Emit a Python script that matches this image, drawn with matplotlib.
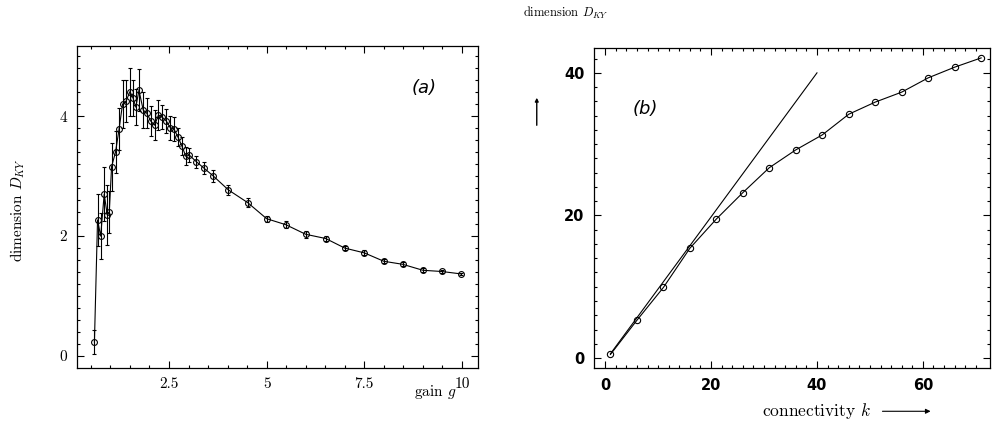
import numpy as np
import matplotlib
matplotlib.use("Agg")
import matplotlib.pyplot as plt

plt.rcParams['mathtext.fontset'] = 'cm'

# --- datos panel (a): gain g vs dimension D_KY ---
gain = [0.59, 0.67, 0.75, 0.84, 0.92, 0.97, 1.03, 1.13, 1.22, 1.31, 1.40, 1.50,
        1.58, 1.65, 1.73, 1.84, 1.93, 2.03, 2.13, 2.23, 2.33, 2.43, 2.53, 2.63,
        2.73, 2.83, 2.93, 3.02, 3.20, 3.40, 3.62, 4.02, 4.51, 5.0, 5.49, 6.0,
        6.51, 7.0, 7.5, 8.0, 8.48, 9.0, 9.48, 9.97]
dim_a = [0.23, 2.27, 2.00, 2.70, 2.35, 2.40, 3.16, 3.40, 3.78, 4.20, 4.25, 4.41,
         4.30, 4.15, 4.43, 4.10, 4.05, 3.92, 3.85, 4.02, 3.98, 3.92, 3.81, 3.78,
         3.65, 3.50, 3.33, 3.35, 3.24, 3.13, 3.01, 2.77, 2.56, 2.29, 2.19, 2.03,
         1.96, 1.80, 1.72, 1.58, 1.53, 1.43, 1.41, 1.37]
err_a = [0.20, 0.43, 0.39, 0.45, 0.50, 0.35, 0.40, 0.35, 0.35, 0.40, 0.35, 0.40,
         0.30, 0.30, 0.35, 0.30, 0.25, 0.25, 0.25, 0.25, 0.20, 0.20, 0.20, 0.20,
         0.15, 0.15, 0.15, 0.12, 0.10, 0.10, 0.10, 0.08, 0.08, 0.05, 0.06, 0.06,
         0.04, 0.04, 0.04, 0.03, 0.03, 0.03, 0.03, 0.02]

# --- datos panel (b): connectivity k vs dimension D_KY ---
conn_k = [1, 6, 11, 16, 21, 26, 31, 36, 41, 46, 51, 56, 61, 66, 71]
dim_b = [0.5, 5.3, 9.9, 15.4, 19.5, 23.2, 26.7, 29.2, 31.3, 34.2, 35.9, 37.3,
         39.3, 40.8, 42.1]
linea_k = [1, 40]
linea_d = [0.6, 40]

fig = plt.figure(figsize=(9.94, 4.24), dpi=100)
ax1 = fig.add_axes([0.0775, 0.132, 0.4034, 0.7595])
ax2 = fig.add_axes([0.5976, 0.132, 0.398, 0.755])

serif = ['cmr10', 'DejaVu Serif']

# Panel (a)
ax1.errorbar(gain, dim_a, yerr=err_a, color='black', lw=0.8, elinewidth=0.8,
             capsize=1.5, marker='o', ms=4.2, mfc='none', mec='black', mew=0.8)
ax1.set_xlim(0.145, 10.41)
ax1.set_ylim(-0.2, 5.17)
ax1.set_xticks([2.5, 5, 7.5, 10])
ax1.set_xticklabels(['2.5', '5', '7.5', '10'])
ax1.set_yticks([0, 2, 4])
ax1.set_xticks(np.arange(0.5, 10.5, 0.5), minor=True)
ax1.set_yticks(np.arange(0, 5.2, 0.2), minor=True)
ax1.tick_params(which='both', direction='in', top=True, right=True, width=0.8)
ax1.tick_params(which='major', length=5, pad=7, labelsize=11)
ax1.tick_params(which='minor', length=2.5)
for t in ax1.get_xticklabels() + ax1.get_yticklabels():
    t.set_family(serif)
ax1.text(0.865, 0.87, '(a)', transform=ax1.transAxes, fontsize=13,
         style='italic', ha='center', va='center')

# Panel (b)
ax2.plot(linea_k, linea_d, color='black', lw=0.8)
ax2.plot(conn_k, dim_b, color='black', lw=0.8, marker='o', ms=4.5, mfc='none',
         mec='black', mew=0.8)
ax2.set_xlim(-2.1, 72.6)
ax2.set_ylim(-1.4, 43.5)
ax2.set_xticks([0, 20, 40, 60])
ax2.set_yticks([0, 20, 40])
ax2.set_xticks(np.arange(0, 72, 2), minor=True)
ax2.set_yticks(np.arange(0, 44, 2), minor=True)
ax2.tick_params(which='both', direction='in', top=True, right=True, width=0.8)
ax2.tick_params(which='major', length=5, pad=7, labelsize=10.5)
ax2.tick_params(which='minor', length=2.5)
for t in ax2.get_xticklabels() + ax2.get_yticklabels():
    t.set_fontweight('bold')
ax2.text(0.13, 0.81, '(b)', transform=ax2.transAxes, fontsize=13,
         style='italic', ha='center', va='center')

for ax in (ax1, ax2):
    for s in ax.spines.values():
        s.set_linewidth(0.9)

# etiquetas de los ejes
fig.text(0.018, 0.505, r'dimension $D_{KY}$', rotation=90, ha='center',
         va='center', family=serif, fontsize=11)
fig.text(0.4376, 0.0755, r'gain $g$', ha='center', va='center',
         family=serif, fontsize=11)
fig.text(0.569, 0.969, r'dimension $D_{KY}$', ha='center', va='center',
         family=serif, fontsize=9)
fig.text(0.821, 0.03, r'connectivity $k$', ha='center', va='center',
         family=serif, fontsize=12.5)
fig.add_artist(matplotlib.patches.FancyArrowPatch(
    (0.885, 0.03), (0.939, 0.03), transform=fig.transFigure,
    arrowstyle='-|>', mutation_scale=7, lw=0.8, color='black'))
fig.add_artist(matplotlib.patches.FancyArrowPatch(
    (0.540, 0.698), (0.540, 0.776), transform=fig.transFigure,
    arrowstyle='-|>', mutation_scale=5, lw=1.0, color='black'))

fig.savefig('out.png', dpi=100)
